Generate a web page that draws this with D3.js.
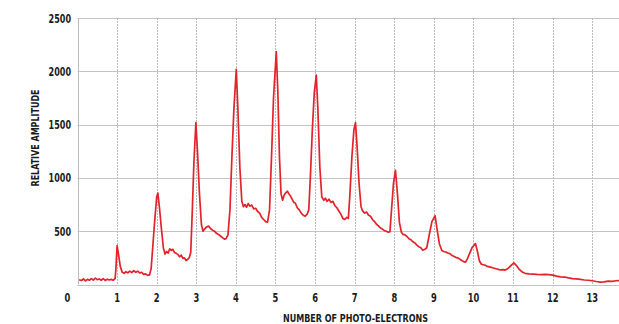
<!doctype html>
<html>
  <head>
    <title>Photo-electron spectrum</title>
    <style>
      * { margin: 0; padding: 0; }
      body { background: #fff; }
      svg { display: block; }
      .lbl { font-family: "Liberation Sans Narrow", "DejaVu Sans Condensed", Arial; font-weight: bold; fill: #1a1a1a; }
    </style>
  </head>
  <body>
    <div id="main"></div>
  </body>
  <script src="https://d3js.org/d3.v7.min.js"></script>
<script>
    var width = 619, height = 324

    // number of photo-electrons (x) and relative amplitude (y)
    var electrons = [
      0.04,0.1,0.15,0.2,0.25,0.3,0.35,0.4,0.45,0.5,0.55,0.6,0.65,0.7,0.75,0.8,0.85,0.9,0.95,
      0.97,1.0,1.03,1.08,1.13,1.18,1.22,1.27,1.32,1.37,1.42,1.47,1.52,1.57,1.62,1.67,1.72,1.77,1.82,
      1.86,1.9,1.95,2.0,2.03,2.07,2.12,2.17,2.21,2.25,2.29,2.33,2.37,2.41,2.45,2.5,2.54,2.58,2.62,2.66,2.7,2.74,2.78,2.82,
      2.86,2.9,2.94,2.99,3.03,3.08,3.13,3.17,3.21,3.26,3.31,3.36,3.41,3.46,3.51,3.56,3.61,3.66,3.71,3.75,3.8,
      3.85,3.9,3.95,4.01,4.05,4.1,4.15,4.19,4.23,4.27,4.31,4.35,4.4,4.45,4.5,4.55,4.6,4.65,4.7,4.75,4.8,
      4.85,4.9,4.95,5.02,5.06,5.1,5.14,5.18,5.22,5.26,5.3,5.34,5.38,5.42,5.46,5.5,5.55,5.6,5.65,5.7,5.75,5.8,5.84,
      5.88,5.93,5.98,6.03,6.07,6.12,6.17,6.22,6.26,6.3,6.35,6.4,6.45,6.5,6.55,6.6,6.65,6.7,6.75,6.8,6.84,
      6.88,6.93,6.98,7.02,7.06,7.11,7.16,7.2,7.25,7.3,7.35,7.4,7.45,7.5,7.55,7.6,7.65,7.7,7.75,7.8,7.85,7.89,
      7.93,7.98,8.03,8.08,8.13,8.18,8.22,8.27,8.32,8.37,8.42,8.47,8.52,8.57,8.62,8.67,8.72,8.77,8.82,
      8.88,8.95,9.03,9.08,9.14,9.2,9.25,9.3,9.35,9.4,9.45,9.5,9.55,9.6,9.65,9.7,9.75,9.8,
      9.85,9.9,9.97,10.05,10.1,10.15,10.2,10.25,10.3,10.35,10.4,10.45,10.5,10.55,10.6,10.65,10.7,10.75,10.8,10.85,
      10.9,10.95,11.02,11.08,11.15,11.22,11.3,11.4,11.5,11.6,11.7,11.8,11.9,12.0,12.1,12.2,12.3,12.4,12.5,
      12.6,12.7,12.8,12.9,13.0,13.1,13.2,13.3,13.4,13.5,13.6,13.7
    ]
    var amplitude = [
      45,38,52,35,48,40,55,42,60,45,52,40,55,38,50,42,48,40,55,
      150,365,300,170,115,105,120,110,125,112,130,115,125,108,115,95,100,85,90,
      150,350,600,820,858,720,520,340,285,310,295,335,320,330,300,290,280,260,275,245,250,225,235,250,
      300,700,1150,1519,1250,850,560,500,520,540,548,525,510,500,480,470,455,440,425,430,465,
      700,1200,1650,2019,1650,1100,780,730,750,725,760,735,745,710,715,685,670,630,610,590,585,
      700,1200,1750,2184,1800,1200,850,790,840,860,875,850,830,800,770,765,720,700,670,650,640,660,700,
      1000,1450,1800,1965,1650,1100,820,790,810,780,800,770,780,740,720,690,660,620,610,630,620,
      850,1200,1450,1519,1300,950,730,690,670,680,650,640,610,590,565,550,530,520,505,500,490,495,
      700,950,1070,850,580,490,470,465,450,430,420,400,390,370,355,345,322,330,345,
      460,590,646,520,380,320,310,305,295,290,275,265,255,250,240,225,215,210,
      245,290,350,384,310,220,190,185,180,170,165,160,155,150,145,140,138,140,135,145,
      160,180,202,180,145,120,105,100,98,95,93,95,92,88,78,72,70,62,55,
      52,48,42,40,35,28,22,25,32,30,35,38
    ]

    var xTicks = [0,1,2,3,4,5,6,7,8,9,10,11,12,13]
    var yTicks = [500,1000,1500,2000,2500]
    var xTitle = 'NUMBER OF PHOTO-ELECTRONS'
    var yTitle = 'RELATIVE AMPLITUDE'

    var x = d3.scaleLinear().domain([0, 13.7]).range([77.5, 620])
    var y = d3.scaleLinear().domain([0, 2500]).range([284.5, 18])

    var svg = d3.select('#main').append('svg')
      .attr('width', width)
      .attr('height', height)

    //grid
    var grid = svg.append('g').attr('stroke', '#c4c4c4').attr('stroke-width', 1)
    grid.selectAll('.hgrid').data(yTicks.concat([0])).enter().append('line')
      .attr('x1', x(0)).attr('x2', width)
      .attr('y1', function(d){ return Math.round(y(d)) + 0.5 })
      .attr('y2', function(d){ return Math.round(y(d)) + 0.5 })
    grid.selectAll('.vgrid').data(xTicks).enter().append('line')
      .attr('x1', function(d){ return Math.round(x(d)) + 0.5 })
      .attr('x2', function(d){ return Math.round(x(d)) + 0.5 })
      .attr('y1', y(2500)).attr('y2', y(0))
      .attr('stroke', '#bcbcbc')
      .attr('stroke-dasharray', function(d){ return d == 0 ? null : '2,1' })

    //tick labels (narrow, heavy face like the original)
    svg.selectAll('.ylab').data(yTicks).enter().append('text')
      .attr('class', 'lbl')
      .attr('x', 71)
      .attr('y', function(d){ return y(d) })
      .attr('dy', '0.36em')
      .attr('text-anchor', 'end')
      .attr('textLength', function(d){ return String(d).length * 5.6 })
      .attr('lengthAdjust', 'spacingAndGlyphs')
      .style('font-size', '12.5px')
      .text(function(d){ return d })

    svg.selectAll('.xlab').data(xTicks).enter().append('text')
      .attr('class', 'lbl')
      .attr('x', function(d){ return d == 0 ? x(d) - 10 : x(d) })
      .attr('y', 302)
      .attr('text-anchor', 'middle')
      .attr('textLength', function(d){ return String(d).length * 5.8 })
      .attr('lengthAdjust', 'spacingAndGlyphs')
      .style('font-size', '12.5px')
      .text(function(d){ return d })

    //axis titles
    svg.append('text')
      .attr('class', 'lbl')
      .attr('x', 355.5)
      .attr('y', 321.5)
      .attr('text-anchor', 'middle')
      .attr('textLength', 145)
      .attr('lengthAdjust', 'spacingAndGlyphs')
      .style('font-size', '11px')
      .text(xTitle)

    svg.append('text')
      .attr('class', 'lbl')
      .attr('transform', 'translate(38.5,138) rotate(-90)')
      .attr('text-anchor', 'middle')
      .attr('textLength', 97)
      .attr('lengthAdjust', 'spacingAndGlyphs')
      .style('font-size', '10px')
      .text(yTitle)

    //trace
    var line = d3.line()
      .x(function(d){ return x(d[0]) })
      .y(function(d){ return y(d[1]) })

    svg.append('path')
      .datum(d3.zip(electrons, amplitude))
      .attr('d', line)
      .attr('fill', 'none')
      .attr('stroke', '#e3232b')
      .attr('stroke-width', 1.7)
      .attr('stroke-linejoin', 'round')
</script>
</html>
